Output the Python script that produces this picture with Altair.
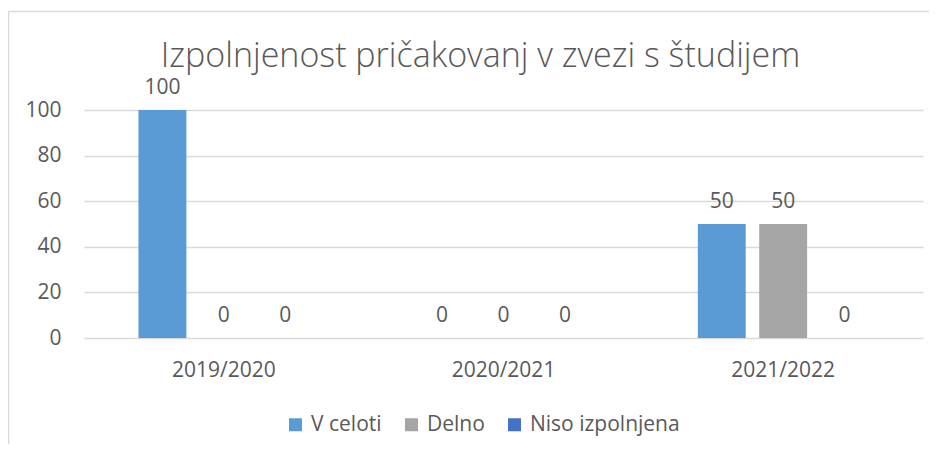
import altair as alt
import pandas as pd

years = ["2019/2020", "2020/2021", "2021/2022"]
series = ["V celoti", "Delno", "Niso izpolnjena"]
v_celoti = [100, 0, 50]
delno = [0, 0, 50]
niso_izpolnjena = [0, 0, 0]
colors = ["#5B9BD5", "#A5A5A5", "#4472C4"]
title_text = "Izpolnjenost pričakovanj v zvezi s študijem"

rows = []
for s, vals in zip(series, [v_celoti, delno, niso_izpolnjena]):
    for y, v in zip(years, vals):
        rows.append({"Leto": y, "Serija": s, "Vrednost": v})
df = pd.DataFrame(rows)

FONT = "Open Sans"
TXT = "#595959"
GRID = "#d9d9d9"

base = alt.Chart(df).encode(
    x=alt.X("Leto:N", sort=years, title=None,
            scale=alt.Scale(paddingInner=0, paddingOuter=0),
            axis=alt.Axis(labelAngle=0, domain=False, ticks=False, tickSize=0,
                          labelPadding=21, labelFont=FONT, labelFontSize=21,
                          labelColor=TXT, grid=False)),
    xOffset=alt.XOffset("Serija:N", sort=series,
                        scale=alt.Scale(paddingInner=0.22, paddingOuter=0.887)),
)

bars = base.mark_bar().encode(
    y=alt.Y("Vrednost:Q", title=None,
            scale=alt.Scale(domain=[0, 100], nice=False),
            axis=alt.Axis(values=[0, 20, 40, 60, 80, 100], domain=False, ticks=False,
                          tickSize=0, labelPadding=23, labelFont=FONT, labelFontSize=21,
                          labelColor=TXT, grid=True, gridColor=GRID, gridWidth=1.5)),
    color=alt.Color("Serija:N", sort=series,
                    scale=alt.Scale(domain=series, range=colors),
                    legend=alt.Legend(title=None, orient="none", legendX=201, legendY=304,
                                      direction="horizontal", columns=3,
                                      symbolType="square", symbolSize=169,
                                      symbolStrokeWidth=0, symbolOpacity=1,
                                      labelOffset=5, columnPadding=19, padding=0,
                                      labelFont=FONT, labelFontSize=21, labelColor=TXT)),
)

labels = base.mark_text(baseline="middle", dy=-22, font=FONT, fontSize=21, color=TXT).encode(
    y=alt.Y("Vrednost:Q"),
    text=alt.Text("Vrednost:Q"),
)

frame_df = pd.DataFrame({"k": [0]})
top_border = alt.Chart(frame_df).mark_rule(color=GRID, strokeWidth=1.5).encode(
    x=alt.value(-75.5), x2=alt.value(845), y=alt.value(-98.5)
)
left_border = alt.Chart(frame_df).mark_rule(color=GRID, strokeWidth=1.5).encode(
    x=alt.value(-75.5), y=alt.value(-98.5), y2=alt.value(334)
)

chart = alt.layer(top_border, left_border, bars, labels).properties(
    width=839,
    height=228,
    padding={"left": 76, "top": 102, "right": 6, "bottom": 106},
    autosize=alt.AutoSizeParams(type="none"),
    title=alt.TitleParams(title_text, font=FONT, fontSize=34, fontWeight=300,
                          color=TXT, anchor="middle", dx=-23, offset=0, dy=63),
    background="white",
).configure_view(stroke=None)

chart.save("out.html", embed_options={"renderer": "svg", "actions": False})
